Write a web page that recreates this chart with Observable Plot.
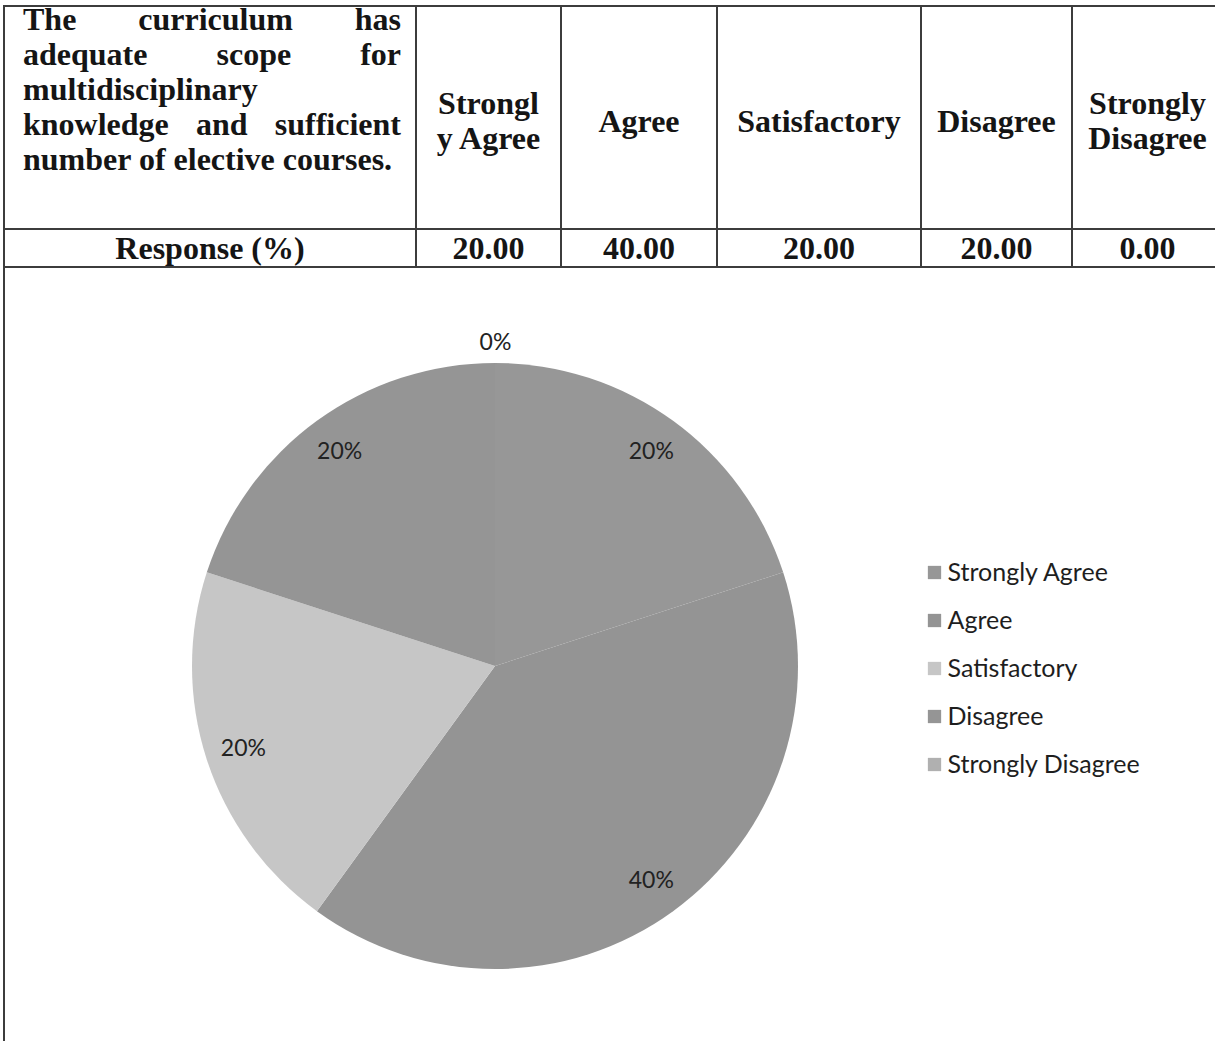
<!DOCTYPE html>
<html>
<head>
<meta charset="utf-8">
<script src="https://cdn.jsdelivr.net/npm/d3@7"></script>
<script src="https://cdn.jsdelivr.net/npm/@observablehq/plot@0.6"></script>
<style>
html, body { margin: 0; padding: 0; background: #fff; }
body { width: 1215px; height: 1041px; overflow: hidden; position: relative; }
#tbl { position: absolute; left: 3px; top: 5px; width: 1219px; border-collapse: collapse; table-layout: fixed;
  font-family: "Liberation Serif", "Times New Roman", serif; font-weight: bold; color: #151515; }
#tbl td { border: 2px solid #3c3c3c; text-align: center; vertical-align: middle; padding: 0;
  font-size: 32px; line-height: 35px; }
#headRow td { padding-top: 7px; }
#tbl td.q { vertical-align: top; padding: 0 14px 0 18px; }
#tbl td.q div { text-align: justify; text-align-last: justify; white-space: nowrap; }
#tbl td.q div:first-child { margin-top: -5px; }
#tbl td.q div.last { text-align-last: left; }
#leftline { position: absolute; left: 3px; top: 267px; width: 2px; height: 780px; background: #3c3c3c; }
#pie { position: absolute; left: 0; top: 270px; }
#legend { position: absolute; left: 920px; top: 545px; }
</style>
</head>
<body>
<table id="tbl">
  <colgroup>
    <col style="width:412px"><col style="width:145px"><col style="width:156px">
    <col style="width:204px"><col style="width:151px"><col style="width:151px">
  </colgroup>
  <tbody>
    <tr style="height:223px" id="headRow"></tr>
    <tr style="height:38px" id="valRow"></tr>
  </tbody>
</table>
<div id="leftline"></div>
<div id="pie"></div>
<div id="legend"></div>
<script>
// ---- data ----
const questionLines = ["The curriculum has", "adequate scope for", "multidisciplinary", "knowledge and sufficient", "number of elective courses."];
const rowLabel = "Response (%)";
const categories = ["Strongly Agree", "Agree", "Satisfactory", "Disagree", "Strongly Disagree"];
const headerLabels = [["Strongl", "y Agree"], ["Agree"], ["Satisfactory"], ["Disagree"], ["Strongly", "Disagree"]];
const responses = [20.00, 40.00, 20.00, 20.00, 0.00];
const greys = ["#979797", "#949494", "#c6c6c6", "#959595", "#b0b0b0"];

// ---- table (text) ----
const headRow = document.getElementById("headRow");
const q = document.createElement("td"); q.className = "q";
questionLines.forEach((l, i) => {
  const d = document.createElement("div");
  if (i === questionLines.length - 1 || l.indexOf(" ") < 0) d.className = "last";
  d.textContent = l; q.appendChild(d);
});
headRow.appendChild(q);
headerLabels.forEach(lines => {
  const td = document.createElement("td");
  lines.forEach((l, i) => { if (i) td.appendChild(document.createElement("br")); td.appendChild(document.createTextNode(l)); });
  headRow.appendChild(td);
});
const valRow = document.getElementById("valRow");
const lab = document.createElement("td"); lab.textContent = rowLabel; valRow.appendChild(lab);
responses.forEach(v => { const td = document.createElement("td"); td.textContent = v.toFixed(2); valRow.appendChild(td); });

// ---- pie ----
const data = categories.map((c, i) => ({category: c, value: responses[i]}));
const total = d3.sum(responses);
const arcs = d3.pie().sort(null).value(d => d.value)(data);
const labels = arcs.map(a => {
  const mid = (a.startAngle + a.endAngle) / 2;
  const r = a.data.value > 0 ? 0.875 : 1.07;
  return {x: r * Math.sin(mid), y: r * Math.cos(mid), label: Math.round(a.data.value / total * 100) + "%"};
});
const color = Plot.scale({color: {type: "ordinal", domain: categories, range: greys}});

const cx = 495, cy = 396, R = 303;
const pie = Plot.plot({
  width: 1215, height: 771, margin: 0,
  x: {domain: [-1, 1], range: [cx - R, cx + R], axis: null},
  y: {domain: [-1, 1], range: [cy + R, cy - R], axis: null},
  marks: [
    (index, scales) => {
      const x0 = scales.x(0), y0 = scales.y(0), rad = scales.x(1) - x0;
      const arc = d3.arc().innerRadius(0).outerRadius(rad);
      const g = d3.create("svg:g").attr("transform", `translate(${x0},${y0})`);
      g.selectAll("path").data(arcs).join("path")
        .attr("d", arc).attr("fill", d => color.apply(d.data.category));
      return g.node();
    },
    Plot.text(labels, {x: "x", y: "y", text: "label", fontSize: 23, fill: "#222", fontFamily: "Lato"})
  ]
});
document.getElementById("pie").appendChild(pie);

// ---- legend ----
const legend = Plot.plot({
  width: 295, height: 245, margin: 0, marginLeft: 14,
  y: {type: "point", domain: categories, range: [26, 220], padding: 0, axis: null},
  color: {domain: categories, range: greys},
  marks: [
    Plot.dot(data, {y: "category", frameAnchor: "left", symbol: "square", r: 7.5, fill: "category", stroke: null}),
    Plot.text(data, {y: "category", frameAnchor: "left", text: "category", textAnchor: "start", dx: 13,
      fontSize: 25, fill: "#1e1e1e", fontFamily: "Lato"})
  ]
});
document.getElementById("legend").appendChild(legend);
</script>
</body>
</html>
